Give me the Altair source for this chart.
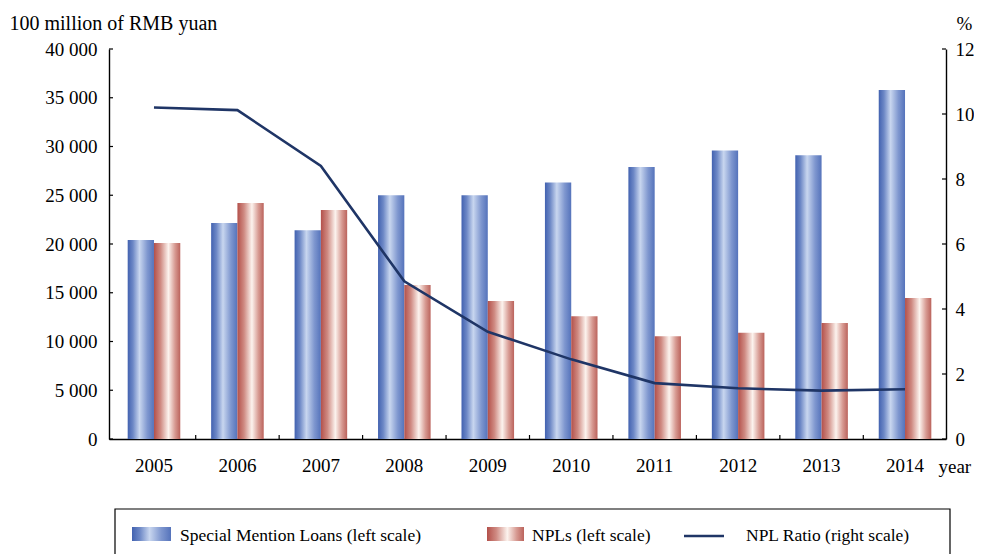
import altair as alt
import pandas as pd

# ---- data ----
years = [2005, 2006, 2007, 2008, 2009, 2010, 2011, 2012, 2013, 2014]
sml = [20400, 22150, 21400, 25000, 25000, 26300, 27900, 29600, 29100, 35800]
npl = [20100, 24200, 23500, 15800, 14150, 12600, 10550, 10900, 11900, 14450]
npl_ratio = [10.2, 10.12, 8.4, 4.85, 3.3, 2.45, 1.72, 1.56, 1.49, 1.53]
series_names = ["Special Mention Loans", "NPLs"]
left_ticks = [0, 5000, 10000, 15000, 20000, 25000, 30000, 35000, 40000]
right_ticks = [0, 2, 4, 6, 8, 10, 12]
legend_labels = ["Special Mention Loans (left scale)", "NPLs (left scale)", "NPL Ratio (right scale)"]

bars_df = pd.DataFrame({
    "year": years * 2,
    "series": [series_names[0]] * len(years) + [series_names[1]] * len(years),
    "value": sml + npl,
})
line_df = pd.DataFrame({"year": years, "ratio": npl_ratio})
lt_df = pd.DataFrame({"t": left_ticks})
rt_df = pd.DataFrame({"t": right_ticks})
xt_df = pd.DataFrame({"year": years[1:]})

FONT = "Liberation Serif"
NAVY = "#1f3566"
W, H = 837, 390
P_IN, P_OUT = 0.37, 0.2
GAP_MID = -P_IN * (W / (10 - P_IN + 2 * P_OUT)) / 2

blue = alt.Gradient(
    gradient="linear", x1=0, x2=1, y1=0, y2=0,
    stops=[
        alt.GradientStop(offset=0, color="#4262b0"),
        alt.GradientStop(offset=0.2, color="#6d88c6"),
        alt.GradientStop(offset=0.45, color="#c8d6ef"),
        alt.GradientStop(offset=0.75, color="#7f97cf"),
        alt.GradientStop(offset=1, color="#5573bb"),
    ],
)
red = alt.Gradient(
    gradient="linear", x1=0, x2=1, y1=0, y2=0,
    stops=[
        alt.GradientStop(offset=0, color="#b3504a"),
        alt.GradientStop(offset=0.25, color="#cf8a82"),
        alt.GradientStop(offset=0.55, color="#fcf3ee"),
        alt.GradientStop(offset=0.8, color="#d79a92"),
        alt.GradientStop(offset=1, color="#bb635c"),
    ],
)

xscale = alt.Scale(paddingInner=P_IN, paddingOuter=P_OUT, align=0.56)
x_axis = alt.Axis(
    title="year", labelAngle=0, ticks=False, labelPadding=17,
    titleX=W - 8, titleY=33, titleAlign="left", titleBaseline="alphabetic",
    titleFontSize=19, titleFontWeight="normal", titleAngle=0,
)


def xenc(**kw):
    return alt.X("year:O", scale=xscale, axis=x_axis, **kw)


left_axis = alt.Axis(
    title="100 million of RMB yuan", values=left_ticks, ticks=False, grid=False,
    labelPadding=12, labelExpr="replace(datum.label, ',', ' ')",
    titleAngle=0, titleAlign="left", titleBaseline="alphabetic",
    titleX=-100, titleY=-20, titleFontSize=20, titleFontWeight="normal",
)
right_axis = alt.Axis(
    title="%", orient="right", values=right_ticks, ticks=False, grid=False,
    labelPadding=9, titleAngle=0, titleAlign="left", titleBaseline="alphabetic",
    titleX=10, titleY=-20, titleFontSize=19, titleFontWeight="normal",
)
lscale = alt.Scale(domain=[0, 40000], nice=False)
rscale = alt.Scale(domain=[0, 12], nice=False)

off = alt.XOffset("series:N", scale=alt.Scale(domain=series_names))

sml_bars = alt.Chart(bars_df).transform_filter(
    alt.datum.series == series_names[0]
).mark_bar(fill=blue, strokeWidth=0).encode(
    x=xenc(), xOffset=off,
    y=alt.Y("value:Q", scale=lscale, axis=left_axis),
)
npl_bars = alt.Chart(bars_df).transform_filter(
    alt.datum.series == series_names[1]
).mark_bar(fill=red, strokeWidth=0).encode(
    x=xenc(), xOffset=off,
    y=alt.Y("value:Q", scale=lscale, axis=left_axis),
)
left_tick_marks = alt.Chart(lt_df).mark_rule(color="black", strokeWidth=1.2).encode(
    y=alt.Y("t:Q", scale=lscale, axis=left_axis),
    x=alt.value(0), x2=alt.value(4),
)
x_tick_marks = alt.Chart(xt_df).mark_rule(color="black", strokeWidth=1.2, xOffset=GAP_MID).encode(
    x=xenc(bandPosition=0),
    y=alt.value(H - 4), y2=alt.value(H),
)

# ---- legend (drawn below the plot, inside the same view) ----
lb = alt.Chart(pd.DataFrame({"k": [0]}))
leg_txt = dict(align="left", baseline="alphabetic", font=FONT, fontSize=17.5, color="black")
LY = 460
legend_layers = [
    lb.mark_rect(fill="transparent", stroke="black", strokeWidth=1.2).encode(
        x=alt.value(6), x2=alt.value(841), y=alt.value(LY), y2=alt.value(LY + 60)),
    lb.mark_rect(fill=blue).encode(x=alt.value(23), x2=alt.value(62), y=alt.value(LY + 18), y2=alt.value(LY + 32)),
    lb.mark_text(**leg_txt).encode(x=alt.value(71), y=alt.value(LY + 32), text=alt.value(legend_labels[0])),
    lb.mark_rect(fill=red).encode(x=alt.value(378), x2=alt.value(415), y=alt.value(LY + 18), y2=alt.value(LY + 32)),
    lb.mark_text(**leg_txt).encode(x=alt.value(423), y=alt.value(LY + 32), text=alt.value(legend_labels[1])),
    lb.mark_rule(color=NAVY, strokeWidth=2.6).encode(x=alt.value(575), x2=alt.value(615), y=alt.value(LY + 27)),
    lb.mark_text(**leg_txt).encode(x=alt.value(637), y=alt.value(LY + 32), text=alt.value(legend_labels[2])),
]

ratio_line = alt.Chart(line_df).mark_line(color=NAVY, strokeWidth=2.6).encode(
    x=xenc(),
    y=alt.Y("ratio:Q", scale=rscale, axis=right_axis),
)
right_tick_marks = alt.Chart(rt_df).mark_rule(color="black", strokeWidth=1.2).encode(
    y=alt.Y("t:Q", scale=rscale, axis=right_axis),
    x=alt.value(W - 4), x2=alt.value(W),
)

left_part = alt.layer(sml_bars, npl_bars, left_tick_marks, x_tick_marks, *legend_layers)
right_part = alt.layer(ratio_line, right_tick_marks)

chart = alt.layer(left_part, right_part).resolve_scale(y="independent").properties(
    width=W, height=H,
    padding={"left": 1, "top": 5, "right": 0, "bottom": 0},
    background="white",
).configure_axis(
    labelFont=FONT, titleFont=FONT, labelFontSize=19, labelColor="black",
    titleColor="black", domainColor="black", domainWidth=1.4,
).configure_view(strokeWidth=0)

chart.save("out.html", embed_options={"renderer": "svg", "actions": False})
